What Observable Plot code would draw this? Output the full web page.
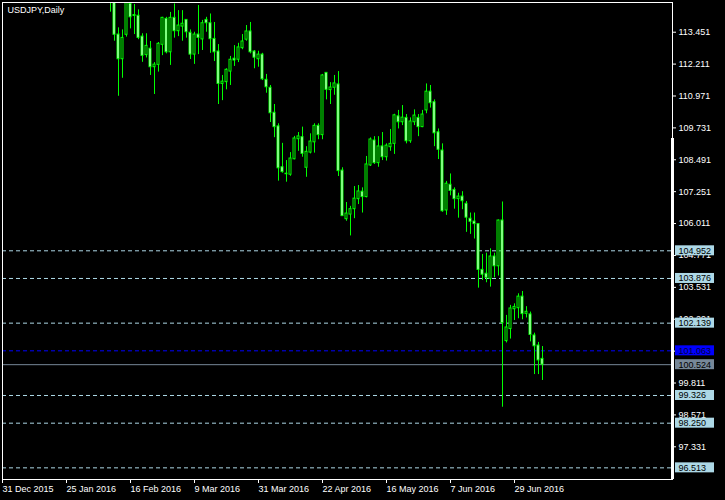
<!DOCTYPE html>
<html><head><meta charset="utf-8">
<script src="https://cdn.jsdelivr.net/npm/d3@7"></script>
<script src="https://cdn.jsdelivr.net/npm/@observablehq/plot@0.6"></script>
<style>html,body{margin:0;padding:0;background:#000;overflow:hidden;}</style>
</head><body><div id="chart"></div>
<script>
// bar index 0 = 31 Dec 2015 (weekday bars); first visible bar is index 27
const firstBar = 27;
const open  = [115.35,114.90,113.36,112.40,113.35,114.55,114.12,114.09,113.28,112.56,112.81,112.09,112.18,112.96,113.97,112.67,114.01,113.49,113.67,113.93,113.43,112.58,113.36,113.17,113.93,113.80,113.19,112.70,111.44,111.51,111.92,112.42,112.38,112.83,113.16,113.48,112.70,112.40,112.58,111.60,111.29,110.32,109.79,108.20,107.95,107.91,108.51,109.29,109.37,108.18,108.77,109.17,109.81,109.45,111.87,111.20,111.29,111.42,108.07,106.18,106.36,106.57,106.96,107.25,107.04,108.27,109.24,108.36,109.01,108.59,108.98,109.11,110.18,109.95,110.12,109.21,109.95,110.12,109.76,110.41,111.14,110.73,109.56,108.85,106.52,107.52,107.32,106.96,107.06,106.78,106.20,106.09,105.99,104.21,104.06,103.86,104.73,104.35,106.13,101.44,101.91,102.68,102.72,103.17,102.50,102.48,101.66,101.27,100.75];
const high  = [115.60,115.20,113.62,113.54,114.87,114.87,114.53,114.32,113.39,113.39,113.09,112.27,113.05,114.03,114.03,114.22,114.55,114.29,114.29,113.94,113.54,113.45,114.49,113.91,114.03,114.16,113.83,112.97,111.77,112.03,112.51,112.93,113.02,113.36,113.71,113.83,112.74,112.71,112.63,111.81,111.38,110.64,109.89,109.13,108.46,108.77,109.40,109.55,109.76,109.00,109.50,109.89,109.89,111.81,111.88,111.49,111.77,111.92,108.18,106.83,106.68,107.45,107.49,107.40,108.62,109.34,109.39,109.39,109.55,109.11,109.67,110.26,110.41,110.60,110.25,110.12,110.43,110.25,110.41,111.44,111.38,110.82,109.69,109.11,107.65,107.94,107.40,107.19,107.25,106.87,106.42,106.42,106.00,104.81,104.86,105.03,104.86,106.15,106.85,102.44,102.83,102.89,103.28,103.37,102.78,102.57,101.75,101.39,101.23];
const low   = [114.23,113.10,110.96,111.66,113.26,113.58,113.36,113.16,112.28,112.45,111.77,111.03,111.90,112.54,112.61,112.16,113.22,113.28,113.10,113.22,112.39,112.20,112.58,112.74,113.45,112.63,112.31,110.64,110.79,111.21,111.38,112.12,112.27,112.77,113.10,112.61,112.03,112.09,111.57,111.08,109.94,109.35,107.66,107.97,107.62,107.85,108.49,108.82,108.59,107.81,108.72,108.75,109.27,109.27,110.82,110.64,111.00,107.84,106.29,106.10,105.53,106.20,106.75,106.42,107.01,108.23,108.31,108.20,108.46,108.44,108.82,108.70,109.69,109.82,109.11,109.13,109.82,109.39,109.74,110.28,110.50,109.00,108.50,106.45,106.33,107.09,106.57,106.22,106.55,105.67,105.59,105.41,103.50,103.80,103.71,103.54,103.90,103.97,98.87,101.37,101.52,102.24,102.31,102.27,102.34,101.41,100.14,100.14,99.91];
const close = [114.90,113.35,112.40,113.23,114.62,114.03,114.08,113.23,112.53,112.92,112.09,112.19,113.00,114.01,112.67,114.01,113.49,113.71,113.78,113.45,112.58,113.36,113.23,113.80,113.80,113.18,112.67,111.44,111.53,111.99,112.38,112.35,112.86,113.09,113.48,112.67,112.46,112.58,111.62,111.31,110.30,109.76,108.16,108.01,107.93,108.54,109.32,109.40,108.72,108.80,109.20,109.81,109.45,111.77,111.21,111.30,111.46,108.05,106.30,106.40,106.57,106.98,107.26,107.04,108.31,109.28,108.36,109.01,108.59,109.04,109.11,110.22,109.95,110.13,109.21,109.98,110.21,109.76,110.25,111.14,110.69,109.52,108.88,106.49,107.56,107.28,106.96,107.06,106.88,106.24,106.08,105.99,104.21,104.02,103.90,104.73,104.35,106.13,102.14,101.97,102.71,102.77,103.17,102.49,102.58,101.68,101.24,100.69,100.524];

const dateTicks = [0,16,32,48,64,80,96,112,128];
const dateLabels = ["31 Dec 2015","25 Jan 2016","16 Feb 2016","9 Mar 2016","31 Mar 2016","22 Apr 2016","16 May 2016","7 Jun 2016","29 Jun 2016"];
const priceTicks = [113.451,112.211,110.971,109.731,108.491,107.251,106.011,104.771,103.531,102.291,101.051,99.811,98.571,97.331];
const dashedLevels = [104.952,103.876,102.139,99.326,98.250,96.513];
const blueLevel = [101.063];
const bidLevel = [100.524];

const candles = open.map((o, k) => ({i: firstBar + k, open: o, high: high[k], low: low[k], close: close[k]}));
const boxes = [
  ...dashedLevels.map(v => ({v, bg: "#add8e6", fg: "#000"})),
  ...blueLevel.map(v => ({v, bg: "#0000ff", fg: "#000040"})),
  ...bidLevel.map(v => ({v, bg: "#778899", fg: "#000"}))
];
const font = "Liberation Sans, Arial, sans-serif";
const xMax = 167.5;

const chart = Plot.plot({
  width: 725, height: 500,
  marginLeft: 2, marginRight: 53, marginTop: 2, marginBottom: 21,
  style: {background: "#000", color: "#fff", fontFamily: font, fontSize: "9px"},
  x: {type: "linear", domain: [0, xMax]},
  y: {domain: [96.06, 114.606]},
  marks: [
    Plot.ruleY(dashedLevels, {stroke: "#add8e6", strokeDasharray: "4,3"}),
    Plot.ruleY(blueLevel, {stroke: "#0000ff", strokeDasharray: "4,3"}),
    Plot.ruleY(bidLevel, {stroke: "#778899"}),
    Plot.ruleX(candles, {x: "i", y1: "low", y2: "high", stroke: "#00ff00", clip: true}),
    Plot.rect(candles, {x1: d => d.i - 0.25, x2: d => d.i + 0.25, y1: "open", y2: "close",
      fill: d => d.close < d.open ? "#fff" : "#000", stroke: "#00ff00", clip: true}),
    Plot.frame({stroke: "#fff"}),
    Plot.ruleX([xMax], {y1: 109.32, y2: 96.06, stroke: "#fff", strokeWidth: 3}),
    Plot.axisY(priceTicks, {anchor: "right", tickSize: 3, tickPadding: 3, tickFormat: d => d.toFixed(3), color: "#fff", fontSize: 9, label: null}),
    Plot.axisX(dateTicks, {anchor: "bottom", tickSize: 4, tickPadding: 2, textAnchor: "start", dx: 0,
      tickFormat: d => dateLabels[dateTicks.indexOf(d)], color: "#fff", fontSize: 9, label: null}),
    Plot.rect(boxes, {x1: xMax, x2: xMax, y1: "v", y2: "v", insetLeft: 3, insetRight: -42, insetTop: -5, insetBottom: -5, fill: "bg"}),
    Plot.text(boxes, {x: xMax, y: "v", text: d => d.v.toFixed(3), dx: 6, textAnchor: "start", fill: "fg", fontSize: 9}),
    Plot.text(["USDJPY,Daily"], {frameAnchor: "top-left", dx: 5, dy: 4, lineAnchor: "top", textAnchor: "start", fill: "#fff", fontSize: 9})
  ]
});
document.getElementById("chart").appendChild(chart);
</script>
</body></html>
